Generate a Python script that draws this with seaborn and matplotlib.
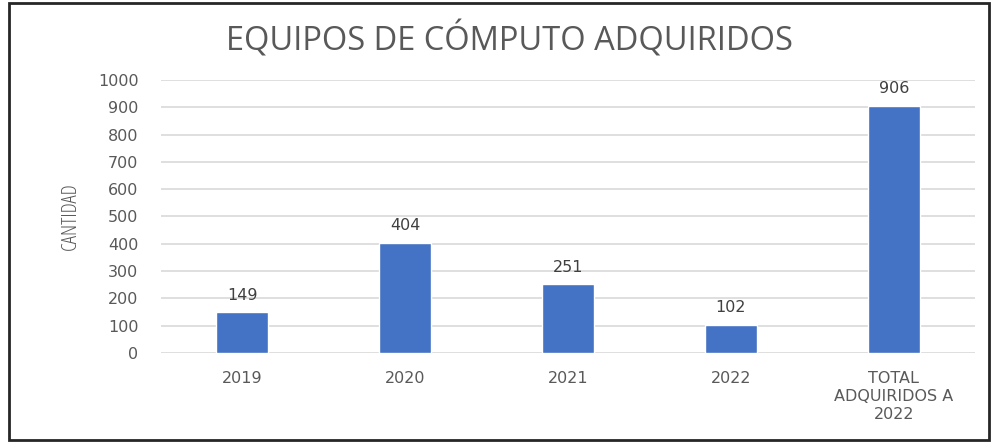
import pandas as pd
import numpy as np
import matplotlib.pyplot as plt
import seaborn as sns
from matplotlib.patches import Rectangle

sns.set_theme(style='white')
plt.rcParams['font.family'] = ['DejaVu Sans']

# datos
categorias = ['2019', '2020', '2021', '2022', 'TOTAL\nADQUIRIDOS A\n2022']
cantidad = [149, 404, 251, 102, 906]
yticks = list(range(0, 1001, 100))

df = pd.DataFrame({'categoria': categorias, 'cantidad': cantidad})

fig = plt.figure(figsize=(9.92, 4.44), dpi=100)
ax = fig.add_axes([0.162, 0.205, 0.821, 0.615])

sns.barplot(data=df, x='categoria', y='cantidad', color='#4472C4', width=0.32,
            saturation=1, ax=ax, zorder=3)

ax.set_ylim(0, 1000)
ax.set_xlim(-0.5, 4.5)
ax.set_yticks(yticks)
ax.yaxis.grid(True, color='#D9D9D9', linewidth=1.2, zorder=0)
ax.set_axisbelow(True)
for s in ax.spines.values():
    s.set_visible(False)
ax.tick_params(axis='both', length=0, labelsize=11.5, labelcolor='#595959')
ax.tick_params(axis='x', pad=13)
ax.tick_params(axis='y', pad=16)
for lbl in ax.get_xticklabels():
    lbl.set_linespacing(1.25)
ax.set_xlabel('')
ax.set_ylabel('CANTIDAD', fontsize=15, color='#595959', labelpad=12,
              family='Open Sans', fontstretch='condensed')

for i, v in enumerate(cantidad):
    ax.annotate(str(v), (i, v), xytext=(0, 7), textcoords='offset points',
                ha='center', va='bottom', fontsize=11.5, color='#404040')

fig.text(509 / 992, 1 - 40 / 444, 'EQUIPOS DE CÓMPUTO ADQUIRIDOS', ha='center', va='center',
         fontsize=23.5, color='#595959', family='Open Sans')

# marco
fig.patches.append(Rectangle((0.009, 0.008), 0.988, 0.985, transform=fig.transFigure,
                             fill=False, edgecolor='#262626', linewidth=2))

fig.savefig('out.png', dpi=100)
